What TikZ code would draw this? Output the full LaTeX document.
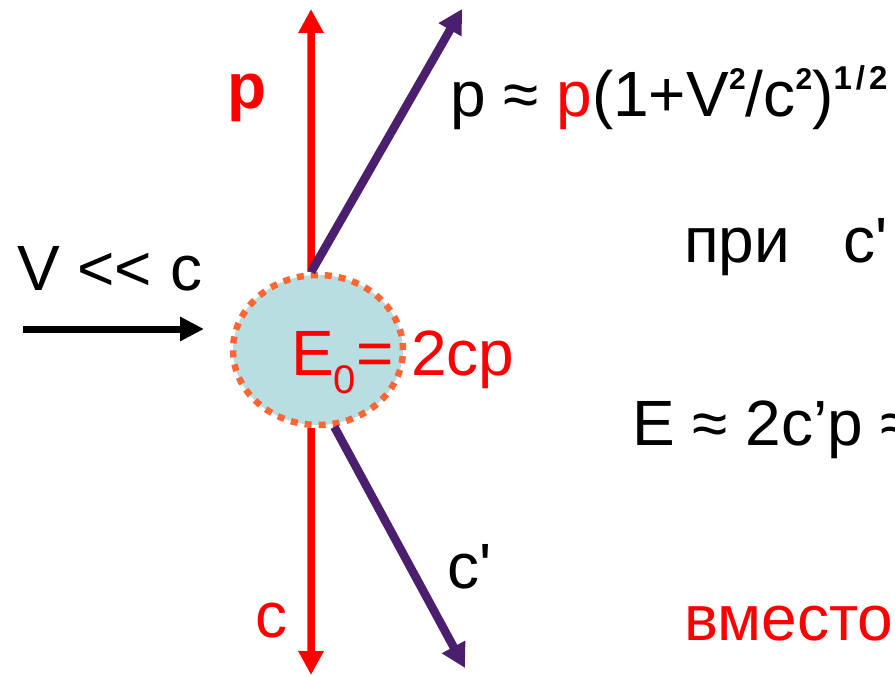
\documentclass[tikz,border=0pt]{standalone}
\usepackage{fontspec}
\setmainfont{Liberation Sans}[Ligatures=TeXOff]
\usetikzlibrary{positioning,arrows.meta,shapes.geometric}
\usepackage{xcolor}
\definecolor{beamviolet}{RGB}{75,31,110}
\definecolor{blobfill}{RGB}{185,222,226}
\definecolor{bloborange}{RGB}{255,102,51}
\newcommand{\supsmall}[1]{\raisebox{28pt}{\fontsize{30}{30}\selectfont\textbf{#1}}}

\begin{document}
\begin{tikzpicture}[x=1pt, y=-1pt,
    every node/.style={font=\fontsize{64}{70}\selectfont, inner sep=0pt},
    txt/.style={anchor=base west},
    redarrow/.style={draw=red, line width=7.5pt, -{Triangle[length=24pt, width=24pt]}},
    violetarrow/.style={draw=beamviolet, line width=8.5pt, -{Triangle[length=24pt, width=25pt]}},
    blackarrow/.style={draw=black, line width=7pt, -{Triangle[length=24pt, width=23pt]}}]
    \useasboundingbox (0,0) rectangle (895,677);

    % colliding blob
    \node[ellipse, fill=blobfill, draw=bloborange, line width=6.5pt, dash pattern=on 7pt off 7pt,
          minimum width=170pt, minimum height=150pt] (blob) at (318,350) {};
    \node[txt, red] (energy) at (291,375) {E\raisebox{-18pt}{\fontsize{40}{40}\selectfont 0}= 2cp};

    % arrow tips
    \coordinate (ptip) at (311,9);
    \coordinate (ctip) at (311,675);
    \coordinate (pslant) at (462,9);
    \coordinate (cslant) at (465,668);
    \coordinate (vstart) at (23,329);
    \coordinate (vtip) at (204,329);

    \draw[redarrow] (blob.95) -- (ptip);
    \draw[redarrow] (blob.265) -- (ctip);
    \draw[violetarrow] (blob.95) -- (pslant);
    \draw[violetarrow] (blob.-78) -- (cslant);
    \draw[blackarrow] (vstart) -- (vtip);

    % labels
    \node[txt, red] (plabel) at (227,108) {\textbf{p}};
    \node[txt, red] (clabel) at (255,637) {c};
    \node[txt] (cprime) at (447,588) {c'};
    \node[txt] (vlabel) at (17,290) {V << c};
    \node[txt] (pformula) at (450,117) {p ≈ \textcolor{red}{p}(1+V\supsmall{2}/c\supsmall{2})\raisebox{27pt}{\fontsize{33}{33}\selectfont\textbf{1\kern4pt/\kern4pt2}}};
    \node[txt] (pri) at (684,262) {при~~~c'};
    \node[txt] (eformula) at (632,445) {E ≈ 2c’p ≈};
    \node[txt, red] (vmesto) at (684,640) {вместо};
\end{tikzpicture}
\end{document}
